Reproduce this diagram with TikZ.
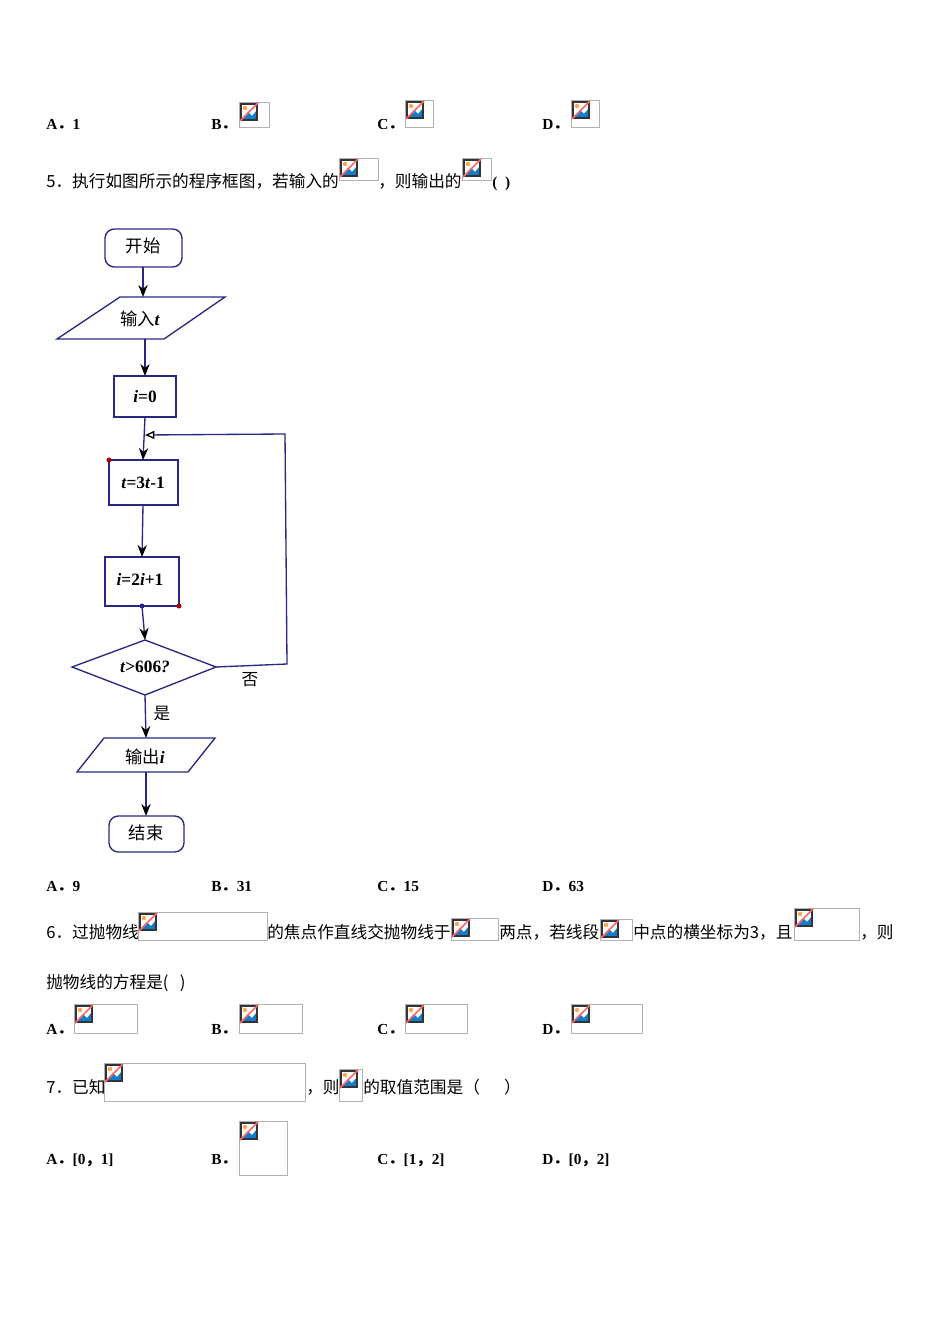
\documentclass[tikz,border=0pt]{standalone}
\usepackage{fontspec}
\setmainfont{Liberation Serif}
\newfontfamily\cjk{Noto Sans CJK SC}
\usetikzlibrary{shapes.geometric,arrows.meta}
\definecolor{fc}{RGB}{40,40,130}
\newcommand\bimg[3]{%
  \draw[gray!60,line width=0.6pt] #2 rectangle #3;
  \begin{scope}[shift={#2}]
    \fill[white] (1,1) rectangle (19,19);
    \fill[cyan!60!blue] (2.5,18) -- (9,10) -- (13,14) -- (18,8) -- (18,18) -- cycle;
    \fill[orange!70] (6,6) circle (2.2);
    \draw[black!80,line width=0.8pt] (2,2) rectangle (18,18);
    \draw[red!60,line width=1.1pt] (1,19) -- (19,1);
  \end{scope}
  \coordinate (#1) at #2;}
\newcommand\fs{{\cjk ．}}
\newcommand\fc{{\cjk ，}}
\begin{document}
\begin{tikzpicture}[x=0.75pt,y=-0.75pt,
  t/.style={anchor=base west,inner sep=0pt,font=\fontsize{12.5}{14}\selectfont\cjk},
  lb/.style={anchor=base west,inner sep=0pt,font=\fontsize{11.5}{13}\selectfont\bfseries},
  fl/.style={draw=fc,line width=1pt},
  ar/.style={fc,line width=1pt,-{Stealth[black,length=9pt,width=7pt]}},
  ft/.style={font=\fontsize{13}{15}\selectfont\bfseries}]
\useasboundingbox[fill=white] (0,0) rectangle (950,1344);
% row 1
\node[lb] (a1) at (46,130) {A\fs 1};
\node[lb] (b1) at (211,130) {B\fs};
\bimg{i1}{(239,102)}{(269,127)}
\node[lb] (c1) at (377,130) {C\fs};
\bimg{i2}{(405,100)}{(433,127)}
\node[lb] (d1) at (542,130) {D\fs};
\bimg{i3}{(571,100)}{(599,127)}
% Q5
\node[t] (q5a) at (46,188) {5．执行如图所示的程序框图，若输入的};
\bimg{i4}{(339,158)}{(378,180)}
\node[t] (q5b) at (378,188) {，则输出的};
\bimg{i5}{(462,158)}{(491,180)}
\node[lb] (q5c) at (492,188) {(\ \ )};
% flowchart
\draw[fl,rounded corners=7pt] (105,229) rectangle (182,267);
\node[font=\fontsize{13}{15}\selectfont\cjk] (st) at (143,246) {开始};
\draw[fl] (120,297) -- (225,297) -- (164,339) -- (57,339) -- cycle;
\node[ft] (in) at (140,319) {{\cjk\mdseries 输入}\textit{t}};
\draw[fl] (114,376) rectangle (176,417);
\node[ft] (i0) at (145,397) {\textit{i}=0};
\draw[fl] (109,460) rectangle (178,505);
\node[ft] (t3) at (143,483) {\textit{t}=3\textit{t}-1};
\draw[fl] (105,557) rectangle (179,606);
\node[ft] (i2) at (140,579) {\textit{i}=2\textit{i}+1};
\draw[fl] (72,667) -- (145,640) -- (216,667) -- (145,695) -- cycle;
\node[ft] (dec) at (145,667) {\textit{t}>606\textit{?}};
\draw[fl] (104,738) -- (215,738) -- (188,772) -- (77,772) -- cycle;
\node[ft] (out) at (145,757) {{\cjk\mdseries 输出}\textit{i}};
\draw[fl,rounded corners=7pt] (109,816) rectangle (184,852);
\node[font=\fontsize{13}{15}\selectfont\cjk] (en) at (146,833) {结束};
\coordinate (c1a) at (143,267); \coordinate (c1b) at (143,297);
\coordinate (c2a) at (145,339); \coordinate (c2b) at (145,376);
\coordinate (c3a) at (145,417); \coordinate (c3b) at (143,460);
\coordinate (c4a) at (143,505); \coordinate (c4b) at (142,557);
\coordinate (c5a) at (142,606); \coordinate (c5b) at (145,640);
\coordinate (c6a) at (145,695); \coordinate (c6b) at (146,738);
\coordinate (c7a) at (146,772); \coordinate (c7b) at (146,816);
\coordinate (rv) at (216,667); \coordinate (rc) at (287,664);
\coordinate (tc) at (285,434); \coordinate (jn) at (145,435);
\draw[ar] (c1a) -- (c1b);
\draw[ar] (c2a) -- (c2b);
\draw[ar] (c3a) -- (c3b);
\draw[ar] (c4a) -- (c4b);
\draw[ar] (c5a) -- (c5b);
\draw[ar] (c6a) -- (c6b);
\draw[ar] (c7a) -- (c7b);
\draw[fc,line width=1pt,-{Triangle[open,black,length=7pt,width=6pt]}] (rv) -- (rc) -- (tc) -- (jn);
\fill[red!70!black] (109,460) circle (2.5);
\fill[red!70!black] (179,606) circle (2.5);
\fill[fc] (142,606) circle (2.5);
\node[font=\fontsize{12.5}{14}\selectfont\cjk] (no) at (250,680) {否};
\node[font=\fontsize{12.5}{14}\selectfont\cjk] (yes) at (162,714) {是};
% answers 5
\node[lb] (a5) at (46,891) {A\fs 9};
\node[lb] (b5) at (211,891) {B\fs 31};
\node[lb] (c5) at (377,891) {C\fs 15};
\node[lb] (d5) at (542,891) {D\fs 63};
% Q6
\node[t] (q6a) at (46,938) {6．过抛物线};
\bimg{i6}{(138,912)}{(267,940)}
\node[t] (q6b) at (267,938) {的焦点作直线交抛物线于};
\bimg{i7}{(451,918)}{(498,940)}
\node[t] (q6c) at (499,938) {两点，若线段};
\bimg{i8}{(600,919)}{(632,940)}
\node[t] (q6d) at (633,938) {中点的横坐标为3，且};
\bimg{i9}{(794,908)}{(859,940)}
\node[t] (q6e) at (860,938) {，则};
\node[t] (q6f) at (46,988) {抛物线的方程是(\ \ \ )};
\node[lb] (a6) at (46,1034) {A\fs};
\bimg{i10}{(74,1004)}{(137,1033)}
\node[lb] (b6) at (211,1034) {B\fs};
\bimg{i11}{(239,1004)}{(302,1033)}
\node[lb] (c6) at (377,1034) {C\fs};
\bimg{i12}{(405,1004)}{(467,1033)}
\node[lb] (d6) at (542,1034) {D\fs};
\bimg{i13}{(571,1004)}{(642,1033)}
% Q7
\node[t] (q7a) at (46,1093) {7．已知};
\bimg{i14}{(104,1063)}{(305,1101)}
\node[t] (q7b) at (306,1093) {，则};
\bimg{i15}{(339,1069)}{(362,1101)}
\node[t] (q7c) at (363,1093) {的取值范围是（\quad\ \ ）};
\node[lb] (a7) at (46,1164) {A\fs [0\fc 1]};
\node[lb] (b7) at (211,1164) {B\fs};
\bimg{i16}{(239,1121)}{(287,1175)}
\node[lb] (c7) at (377,1164) {C\fs [1\fc 2]};
\node[lb] (d7) at (542,1164) {D\fs [0\fc 2]};
\end{tikzpicture}
\end{document}
